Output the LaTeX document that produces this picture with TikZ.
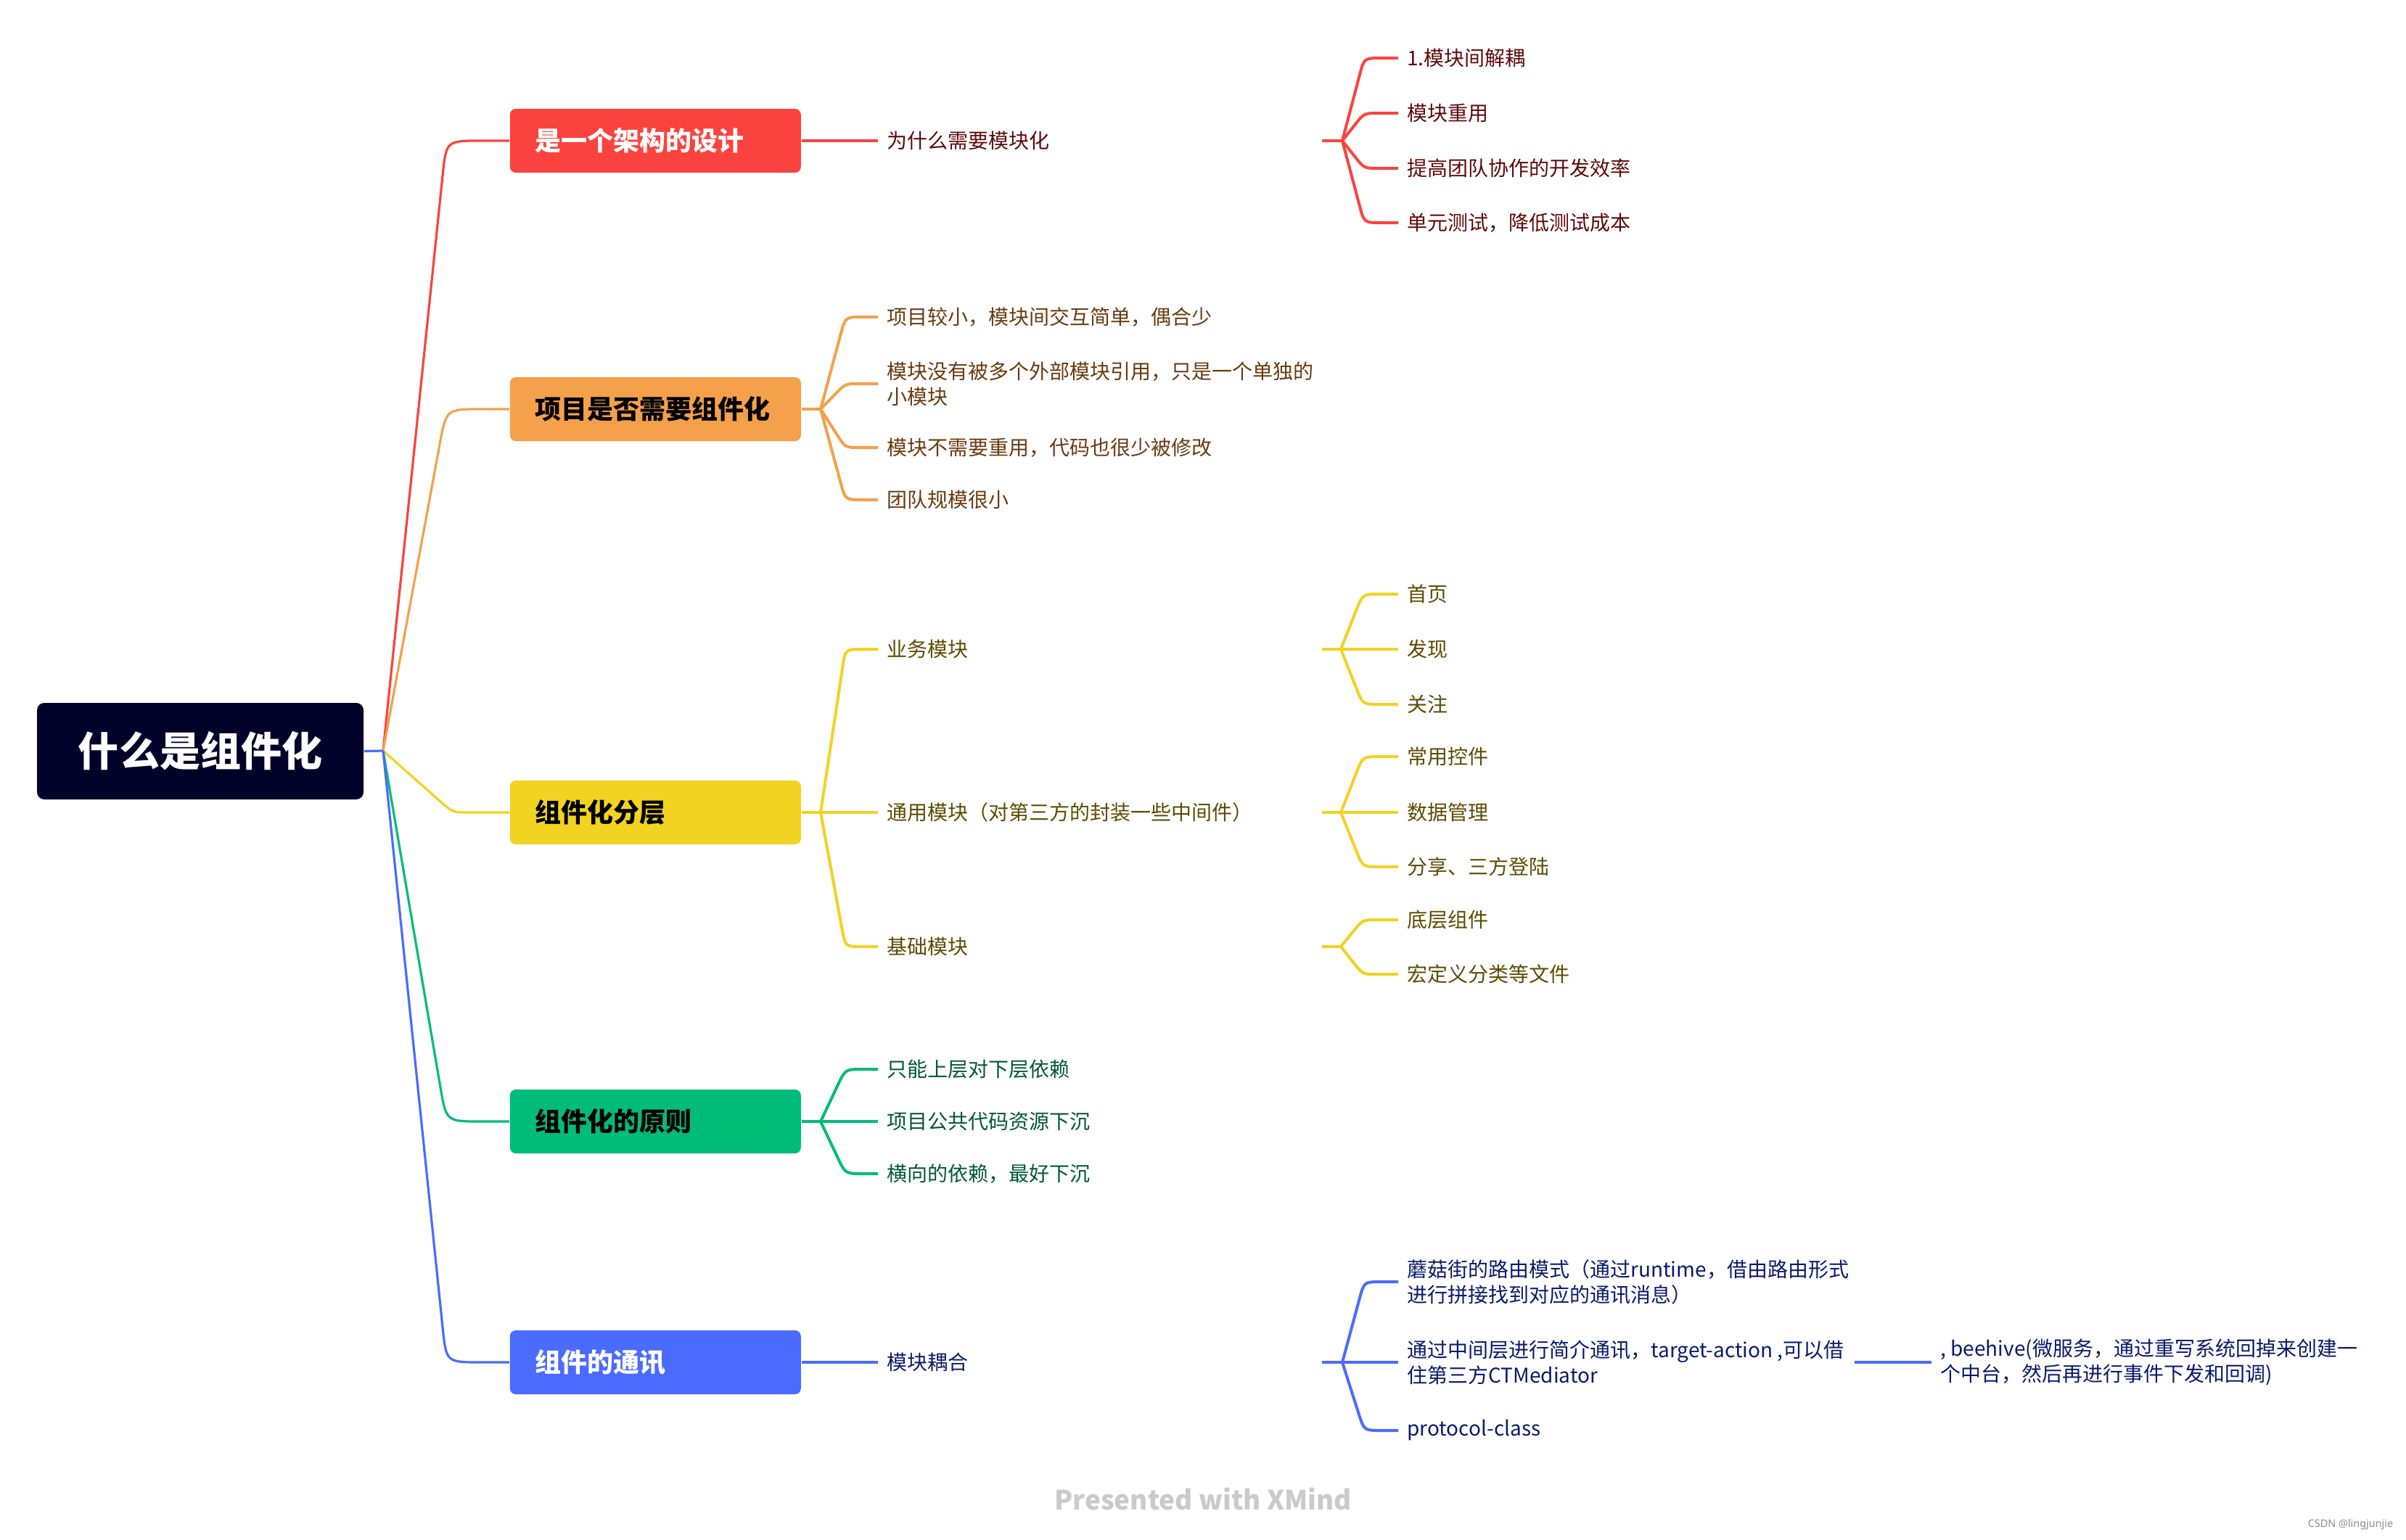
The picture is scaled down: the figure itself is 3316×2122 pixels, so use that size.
\documentclass[tikz,border=0pt]{standalone}
\usepackage{fontspec}
\setmainfont{Noto Sans CJK SC}
\newfontfamily\footfont{Noto Sans}
\usetikzlibrary{calc}
\definecolor{cRoot}{HTML}{000229}
\definecolor{cRed}{HTML}{FA433E}
\definecolor{cOra}{HTML}{F5A04A}
\definecolor{cYel}{HTML}{F2D322}
\definecolor{cGrn}{HTML}{00BC7B}
\definecolor{cBlu}{HTML}{4B6BFF}
\definecolor{tRed}{HTML}{5E0A0A}
\definecolor{tOra}{HTML}{6B3A0E}
\definecolor{tYel}{HTML}{5E4B00}
\definecolor{tGrn}{HTML}{00573A}
\definecolor{tBlu}{HTML}{0A1A6B}
\definecolor{tFoot}{HTML}{CACACA}
\begin{document}
\begin{tikzpicture}[x=0.25pt,y=-0.25pt,
  rootbox/.style={fill=cRoot, rounded corners=2.5pt, minimum width=112.5pt, minimum height=33.25pt,
    text=white, font=\fontsize{14pt}{17pt}\selectfont\bfseries, inner sep=0pt},
  mainbox/.style={rounded corners=2pt, minimum height=22pt, text width=83pt, inner xsep=8.625pt,
    inner ysep=0pt, align=left, anchor=west, font=\fontsize{9pt}{11pt}\selectfont\bfseries},
  sub/.style={anchor=west, inner xsep=2.9pt, inner ysep=1pt, align=left,
    font=\fontsize{7pt}{8.75pt}\selectfont},
  mline/.style={line width=0.8pt},
  sline/.style={line width=1pt},
  br/.style n args={4}{insert path={-- ($(#2)!#4!(#1)$) .. controls (#2) .. ($(#2)!#4!(#3)$) -- (#3)}},
]
\useasboundingbox (0,0) rectangle (3316,2122);

% root and main topics
\node[rootbox] (root) at (276,1035.5) {什么是组件化};
\coordinate (rp) at (528,1035);
\node[mainbox, fill=cRed, text=white] (b1) at (702,194) {是一个架构的设计};
\node[mainbox, fill=cOra, text=black] (b2) at (702,564) {项目是否需要组件化};
\node[mainbox, fill=cYel, text=black] (b3) at (702,1120) {组件化分层};
\node[mainbox, fill=cGrn, text=black] (b4) at (702,1546) {组件化的原则};
\node[mainbox, fill=cBlu, text=white] (b5) at (702,1878) {组件的通讯};

\coordinate (k1) at (615,194);
\coordinate (k2) at (615,564);
\coordinate (k3) at (624,1120);
\coordinate (k4) at (615,1546);
\coordinate (k5) at (615,1878);
\draw[mline,cRed] (rp) [br={rp}{k1}{b1.west}{12pt}];
\draw[mline,cOra] (rp) [br={rp}{k2}{b2.west}{12pt}];
\draw[mline,cYel] (rp) [br={rp}{k3}{b3.west}{6pt}];
\draw[mline,cGrn] (rp) [br={rp}{k4}{b4.west}{12pt}];
\draw[mline,cBlu] (rp) [br={rp}{k5}{b5.west}{12pt}];
\draw[mline,cBlu] (root.east) -- (rp);

% ---------- red branch
\node[sub, text=tRed] (r1) at (1210,194) {为什么需要模块化};
\draw[sline,cRed] (b1.east) -- (r1.west);
\coordinate (r1s) at (1822,194);
\coordinate (r1f) at (1850,194);
\draw[sline,cRed] (r1s) -- (r1f);
\node[sub, text=tRed] (r11) at (1927,80) {1.模块间解耦};
\node[sub, text=tRed] (r12) at (1927,156) {模块重用};
\node[sub, text=tRed] (r13) at (1927,232) {提高团队协作的开发效率};
\node[sub, text=tRed] (r14) at (1927,307) {单元测试，降低测试成本};
\coordinate (kr11) at (1880,80);
\coordinate (kr12) at (1880,156);
\coordinate (kr13) at (1880,232);
\coordinate (kr14) at (1880,307);
\draw[sline,cRed] (r1f) [br={r1f}{kr11}{r11.west}{6pt}];
\draw[sline,cRed] (r1f) [br={r1f}{kr12}{r12.west}{5pt}];
\draw[sline,cRed] (r1f) [br={r1f}{kr13}{r13.west}{5pt}];
\draw[sline,cRed] (r1f) [br={r1f}{kr14}{r14.west}{6pt}];

% ---------- orange branch
\coordinate (of) at (1131,564);
\draw[sline,cOra] (b2.east) -- (of);
\node[sub, text=tOra] (o1) at (1210,437) {项目较小，模块间交互简单，偶合少};
\node[sub, text=tOra] (o2) at (1210,529) {模块没有被多个外部模块引用，只是一个单独的\\小模块};
\node[sub, text=tOra] (o3) at (1210,617) {模块不需要重用，代码也很少被修改};
\node[sub, text=tOra] (o4) at (1210,689) {团队规模很小};
\coordinate (ko1) at (1165,437);
\coordinate (ko2) at (1165,529);
\coordinate (ko3) at (1165,617);
\coordinate (ko4) at (1165,689);
\draw[sline,cOra] (of) [br={of}{ko1}{o1.west}{6pt}];
\draw[sline,cOra] (of) [br={of}{ko2}{o2.west}{5pt}];
\draw[sline,cOra] (of) [br={of}{ko3}{o3.west}{5pt}];
\draw[sline,cOra] (of) [br={of}{ko4}{o4.west}{6pt}];

% ---------- yellow branch
\coordinate (yf) at (1131,1120);
\draw[sline,cYel] (b3.east) -- (yf);
\node[sub, text=tYel] (y1) at (1210,895) {业务模块};
\node[sub, text=tYel] (y2) at (1210,1120) {通用模块（对第三方的封装一些中间件）};
\node[sub, text=tYel] (y3) at (1210,1305) {基础模块};
\coordinate (ky1) at (1165,895);
\coordinate (ky3) at (1165,1305);
\draw[sline,cYel] (yf) [br={yf}{ky1}{y1.west}{6pt}];
\draw[sline,cYel] (yf) -- (y2.west);
\draw[sline,cYel] (yf) [br={yf}{ky3}{y3.west}{6pt}];

\coordinate (y1s) at (1822,895);  \coordinate (y1f) at (1848,895);
\coordinate (y2s) at (1822,1120); \coordinate (y2f) at (1848,1120);
\coordinate (y3s) at (1822,1305); \coordinate (y3f) at (1848,1305);
\draw[sline,cYel] (y1s) -- (y1f);
\draw[sline,cYel] (y2s) -- (y2f);
\draw[sline,cYel] (y3s) -- (y3f);

\node[sub, text=tYel] (y11) at (1927,819) {首页};
\node[sub, text=tYel] (y12) at (1927,895) {发现};
\node[sub, text=tYel] (y13) at (1927,971) {关注};
\coordinate (ky11) at (1878,819);
\coordinate (ky13) at (1878,971);
\draw[sline,cYel] (y1f) [br={y1f}{ky11}{y11.west}{6pt}];
\draw[sline,cYel] (y1f) -- (y12.west);
\draw[sline,cYel] (y1f) [br={y1f}{ky13}{y13.west}{6pt}];

\node[sub, text=tYel] (y21) at (1927,1043) {常用控件};
\node[sub, text=tYel] (y22) at (1927,1120) {数据管理};
\node[sub, text=tYel] (y23) at (1927,1195) {分享、三方登陆};
\coordinate (ky21) at (1878,1043);
\coordinate (ky23) at (1878,1195);
\draw[sline,cYel] (y2f) [br={y2f}{ky21}{y21.west}{6pt}];
\draw[sline,cYel] (y2f) -- (y22.west);
\draw[sline,cYel] (y2f) [br={y2f}{ky23}{y23.west}{6pt}];

\node[sub, text=tYel] (y31) at (1927,1268) {底层组件};
\node[sub, text=tYel] (y32) at (1927,1343) {宏定义分类等文件};
\coordinate (ky31) at (1878,1268);
\coordinate (ky32) at (1878,1343);
\draw[sline,cYel] (y3f) [br={y3f}{ky31}{y31.west}{5pt}];
\draw[sline,cYel] (y3f) [br={y3f}{ky32}{y32.west}{5pt}];

% ---------- green branch
\coordinate (gf) at (1131,1546);
\draw[sline,cGrn] (b4.east) -- (gf);
\node[sub, text=tGrn] (g1) at (1210,1474) {只能上层对下层依赖};
\node[sub, text=tGrn] (g2) at (1210,1546) {项目公共代码资源下沉};
\node[sub, text=tGrn] (g3) at (1210,1618) {横向的依赖，最好下沉};
\coordinate (kg1) at (1165,1474);
\coordinate (kg3) at (1165,1618);
\draw[sline,cGrn] (gf) [br={gf}{kg1}{g1.west}{6pt}];
\draw[sline,cGrn] (gf) -- (g2.west);
\draw[sline,cGrn] (gf) [br={gf}{kg3}{g3.west}{6pt}];

% ---------- blue branch
\node[sub, text=tBlu] (u1) at (1210,1878) {模块耦合};
\draw[sline,cBlu] (b5.east) -- (u1.west);
\coordinate (u1s) at (1822,1878);
\coordinate (u1f) at (1850,1878);
\draw[sline,cBlu] (u1s) -- (u1f);
\node[sub, text=tBlu] (u11) at (1927,1767) {蘑菇街的路由模式（通过runtime，借由路由形式\\进行拼接找到对应的通讯消息）};
\node[sub, text=tBlu] (u12) at (1927,1878) {通过中间层进行简介通讯，target-action ,可以借\\住第三方CTMediator};
\node[sub, text=tBlu] (u13) at (1927,1972) {protocol-class};
\coordinate (ku11) at (1880,1767);
\coordinate (ku13) at (1880,1972);
\draw[sline,cBlu] (u1f) [br={u1f}{ku11}{u11.west}{6pt}];
\draw[sline,cBlu] (u1f) -- (u12.west);
\draw[sline,cBlu] (u1f) [br={u1f}{ku13}{u13.west}{6pt}];
\coordinate (u12s) at (2556,1878);
\node[sub, text=tBlu] (u121) at (2662,1878) {, beehive(微服务，通过重写系统回掉来创建一\\个中台，然后再进行事件下发和回调)};
\draw[sline,cBlu] (u12s) -- (u121.west);

% ---------- footer
\node[text=tFoot, font=\fontsize{9.2pt}{11pt}\selectfont\bfseries] (foot) at (1658,2066) {Presented with XMind};
\node[text=black!45, font=\footfont\fontsize{3.6pt}{4.5pt}\selectfont, anchor=east, inner sep=0pt] (csdn) at (3299,2102) {CSDN @lingjunjie};
\end{tikzpicture}
\end{document}
